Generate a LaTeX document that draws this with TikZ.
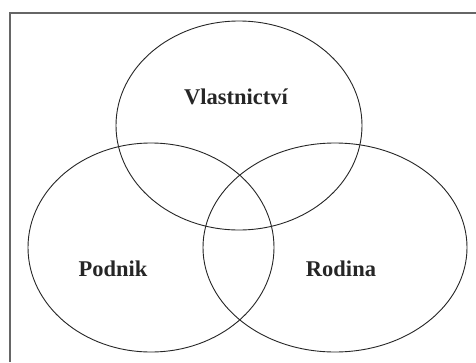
\documentclass[tikz,border=0pt]{standalone}
\usepackage{fontspec}
\setmainfont{Liberation Serif}
\begin{document}
\begin{tikzpicture}[x=1pt,y=-1pt,
  circ/.style={draw=black!85, line width=0.9pt},
  lbl/.style={font=\fontsize{22.5}{26}\selectfont\bfseries, text=black!85},
  frame/.style={draw=black!60, line width=2pt}]
\useasboundingbox (0,0) rectangle (476,362);
\fill[white] (0,0) rectangle (476,362);
\coordinate (fa) at (10,362);
\coordinate (fb) at (10,12.5);
\coordinate (fc) at (476,12.5);
\draw[frame] (fa) -- (fb) -- (fc);
\draw[circ] (239,125.5) ellipse [x radius=123, y radius=104.5];
\draw[circ] (151,247.5) ellipse [x radius=123, y radius=104.5];
\draw[circ] (335,247.5) ellipse [x radius=132, y radius=104.5];
\node[lbl] (v) at (236,97) {Vlastnictví};
\node[lbl] (p) at (113,269) {Podnik};
\node[lbl] (r) at (341,269) {Rodina};
\end{tikzpicture}
\end{document}
